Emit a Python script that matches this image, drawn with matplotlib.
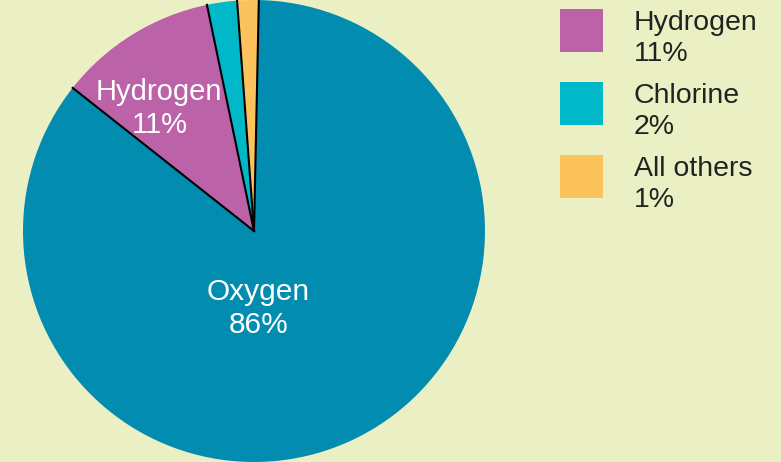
import numpy as np
import matplotlib.pyplot as plt
from matplotlib.patches import Rectangle
from matplotlib.legend_handler import HandlerPatch

plt.rcParams['font.family'] = ['Liberation Sans', 'DejaVu Sans']

# slice data, clockwise from the top
names = ['Oxygen', 'Hydrogen', 'Chlorine', 'All others']
shares = [85.3, 11.1, 2.1, 1.5]      # slice sizes as drawn
pct_labels = [86, 11, 2, 1]          # percentages as printed
colors = ['#028db0', '#bc62a8', '#00b8c7', '#fcc25c']
bg = '#eaf0c4'

fig = plt.figure(figsize=(7.81, 4.62), dpi=100, facecolor=bg)
ax = fig.add_axes([23/781, 0, 462/781, 1])
ax.set_facecolor(bg)

wedges, _ = ax.pie(shares, colors=colors, startangle=88.8, counterclock=False,
                   radius=1, wedgeprops=dict(linewidth=0))

# black radial lines at slice boundaries
for w in wedges:
    a = np.deg2rad(w.theta1)
    ax.plot([0, np.cos(a)], [0, np.sin(a)], color='black', lw=1.5)

ax.text(-0.41, 0.53, f'{names[1]}\n{pct_labels[1]}%', color='white',
        fontsize=21, ha='center', va='center', linespacing=1.25)
ax.text(0.02, -0.336, f'{names[0]}\n{pct_labels[0]}%', color='white',
        fontsize=21.5, ha='center', va='center', linespacing=1.25)

ax.set_xlim(-1, 1)
ax.set_ylim(-1, 1)
ax.set_aspect('equal')
ax.axis('off')


def raised_square(legend, orig_handle, xdescent, ydescent, width, height, fontsize):
    return Rectangle((-xdescent, -ydescent + 6.5), width, height)


labels = [f'{n}\n{p}%' for n, p in zip(names, pct_labels)]
leg = fig.legend(wedges[1:], labels[1:], loc='upper left',
                 bbox_to_anchor=(540/781, 1 + 10/462), frameon=False,
                 fontsize=20.5, handlelength=1.5, handleheight=1.93,
                 handletextpad=1.1, labelspacing=0.57, borderpad=0.2,
                 handler_map={w: HandlerPatch(patch_func=raised_square) for w in wedges})
for t in leg.get_texts():
    t.set_color('#222222')
    t.set_linespacing(1.24)

fig.savefig('out.png', facecolor=bg)
